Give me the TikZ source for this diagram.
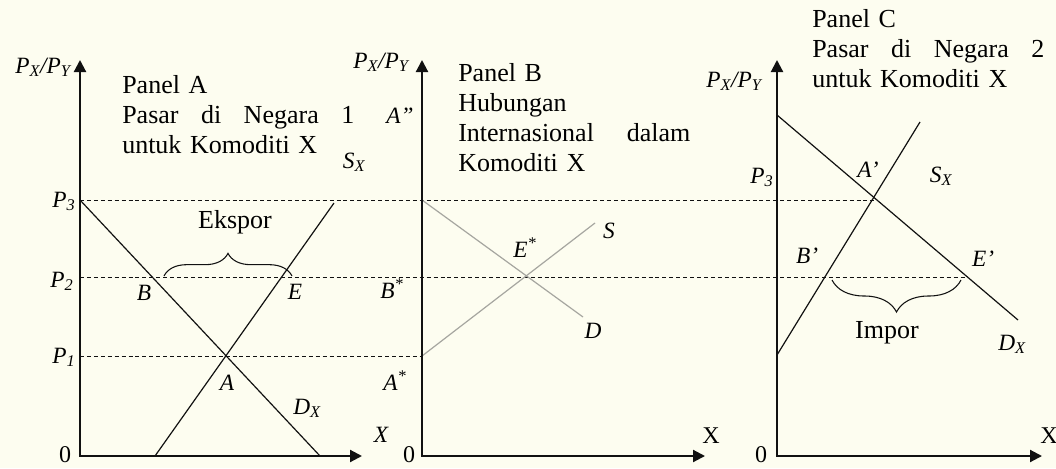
\documentclass[tikz,border=0pt]{standalone}
\usepackage{fontspec}
\setmainfont{Liberation Serif}
\usepackage{tikz}
\usetikzlibrary{arrows.meta,decorations.pathreplacing}
\definecolor{cream}{HTML}{FDFDF0}
\definecolor{ink}{HTML}{111111}
\definecolor{softgray}{HTML}{A6A6A0}
\tikzset{
  axis/.style={draw=ink,line width=1.6pt,
               {Triangle[length=9pt,width=9pt]}-{Triangle[length=9pt,width=9pt]}},
  curve/.style={draw=ink,line width=0.9pt},
  graycurve/.style={draw=softgray,line width=0.9pt},
  level/.style={draw=ink,line width=0.7pt,dash pattern=on 3pt off 2.2pt},
  bracket/.style={draw=ink,line width=0.8pt,decorate,
                  decoration={brace,amplitude=#1}},
  lbl/.style={inner sep=0pt,anchor=base,
              font=\fontsize{17.5}{21}\selectfont\itshape},
  axlbl/.style={inner sep=0pt,anchor=base,font=\fontsize{18}{21}\selectfont},
  plaintext/.style={inner sep=0pt,anchor=base,font=\fontsize{19.5}{22.5}\selectfont},
  paneltext/.style={inner sep=0pt,anchor=north west,text width=174pt,
                    align=left,font=\fontsize{19.5}{22.5}\selectfont}
}
\newcommand{\pxpy}{P\textsubscript{X}/P\textsubscript{Y}}

\begin{document}
\begin{tikzpicture}[x=0.75pt,y=-0.75pt]
  \fill[cream] (0,0) rectangle (1056,468);
  \path[use as bounding box] (0,0) rectangle (1056,468);

  \coordinate (oA) at (80,456);  \coordinate (yA) at (80,60);  \coordinate (xA) at (362,456);
  \coordinate (oB) at (422,456); \coordinate (yB) at (422,60); \coordinate (xB) at (705,456);
  \coordinate (oC) at (777,456); \coordinate (yC) at (777,60); \coordinate (xC) at (1042,456);

  \coordinate (p3) at (80,200);
  \coordinate (p2) at (80,277);
  \coordinate (p1) at (80,356);

  \coordinate (dA) at (320,456);
  \coordinate (sA1) at (155,456);  \coordinate (sA2) at (334,203);
  \coordinate (dB1) at (422,200);  \coordinate (dB2) at (583,317);
  \coordinate (sB1) at (422,356);  \coordinate (sB2) at (595,223);
  \coordinate (dC1) at (777,115);  \coordinate (dC2) at (1018,320);
  \coordinate (sC1) at (777,355);  \coordinate (sC2) at (920,122);
  \coordinate (aC) at (874,200);
  \coordinate (eC) at (965,277);

  \coordinate (ekspL) at (164,276); \coordinate (ekspR) at (292,276);
  \coordinate (imprL) at (832,280); \coordinate (imprR) at (961,280);

  \draw[level] (p3) -- (aC);
  \draw[level] (p2) -- (eC);
  \draw[level] (p1) -- (sB1);

  \draw[curve] (p3) -- (dA);
  \draw[curve] (sA1) -- (sA2);
  \draw[graycurve] (dB1) -- (dB2);
  \draw[graycurve] (sB1) -- (sB2);
  \draw[curve] (dC1) -- (dC2);
  \draw[curve] (sC1) -- (sC2);

  \draw[axis] (yA) -- (oA) -- (xA);
  \draw[axis] (yB) -- (oB) -- (xB);
  \draw[axis] (yC) -- (oC) -- (xC);

  \draw[bracket=17pt] (ekspL) -- (ekspR);
  \draw[bracket=24pt] (imprR) -- (imprL);

  \node[paneltext] (panelA) at (122,75)
    {Panel A\\ Pasar\hfill di\hfill Negara\hfill 1\\ untuk Komoditi X};
  \node[paneltext] (panelB) at (458,63)
    {Panel B\\ Hubungan\\ Internasional\hfill dalam\\ Komoditi X};
  \node[paneltext] (panelC) at (812,9)
    {Panel C\\ Pasar\hfill di\hfill Negara\hfill 2\\ untuk Komoditi X};

  \node[plaintext] (ekspor) at (235,228) {Ekspor};
  \node[plaintext] (impor) at (887,338) {Impor};

  \node[lbl] (pxpyA) at (43,73) {\pxpy};
  \node[lbl] (pxpyB) at (381,68) {\pxpy};
  \node[lbl] (pxpyC) at (734,87) {\pxpy};

  \node[lbl] (lp3) at (64,207) {P\textsubscript{3}};
  \node[lbl] (lp2) at (62,287) {P\textsubscript{2}};
  \node[lbl] (lp1) at (64,363) {P\textsubscript{1}};
  \node[lbl] (lpC3) at (762,183) {P\textsubscript{3}};

  \node[lbl] (lB) at (144,300) {B};
  \node[lbl] (lE) at (295,299) {E};
  \node[lbl] (lA) at (227,390) {A};
  \node[lbl] (lDA) at (307,414) {D\textsubscript{X}};
  \node[lbl] (lSA) at (354,168) {S\textsubscript{X}};
  \node[lbl] (lAdd) at (400,123) {A”};
  \node[lbl] (lXA) at (381,442) {X};

  \node[lbl] (lS) at (609,238) {S};
  \node[lbl] (lEst) at (525,257) {E\textsuperscript{*}};
  \node[lbl] (lD) at (593,338) {D};
  \node[lbl] (lBst) at (392,298) {B\textsuperscript{*}};
  \node[lbl] (lAst) at (395,390) {A\textsuperscript{*}};

  \node[lbl] (lAp) at (868,177) {A’};
  \node[lbl] (lSC) at (941,182) {S\textsubscript{X}};
  \node[lbl] (lBp) at (807,263) {B’};
  \node[lbl] (lEp) at (983,266) {E’};
  \node[lbl] (lDC) at (1012,350) {D\textsubscript{X}};

  \node[axlbl] (zeroA) at (65,462) {0};
  \node[axlbl] (zeroB) at (409,462) {0};
  \node[axlbl] (zeroC) at (761,462) {0};
  \node[axlbl] (lXB) at (711,443) {X};
  \node[axlbl] (lXC) at (1049,443) {X};
\end{tikzpicture}
\end{document}
